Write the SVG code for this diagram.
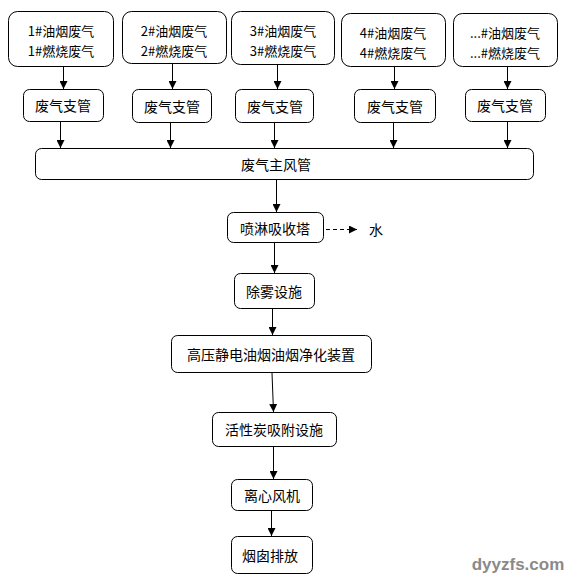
<svg xmlns="http://www.w3.org/2000/svg" width="568" height="583" viewBox="0 0 568 583">
<style>
.b{fill:#fff;stroke:#000;stroke-width:1}
.t{font-family:"Noto Sans CJK SC","Liberation Sans",sans-serif;font-size:14px;fill:#000;text-anchor:middle;dominant-baseline:central}
.s{font-size:13px}
.c{stroke:#000;stroke-width:1;fill:none}
.d{stroke-dasharray:4,3}
.w{font-family:"Liberation Sans",sans-serif;font-size:17px;font-weight:bold;fill:#8a8a8a;text-anchor:middle;dominant-baseline:central}
</style>
<defs>
<marker id="a" viewBox="0 0 10 10" refX="10" refY="5" markerWidth="8" markerHeight="8" markerUnits="userSpaceOnUse" orient="auto">
<path d="M0,0 L10,5 L0,10 Z" fill="#000"/>
</marker>
</defs>
<rect width="568" height="583" fill="#fff"/>
<g id="src1"><rect class="b" x="8.5" y="11.5" width="105" height="55" rx="9"/><text class="t s" x="61" y="30">1#油烟废气</text><text class="t s" x="61" y="50">1#燃烧废气</text></g>
<g id="src2"><rect class="b" x="122.5" y="11.5" width="104" height="52" rx="9"/><text class="t s" x="174" y="30">2#油烟废气</text><text class="t s" x="174" y="50">2#燃烧废气</text></g>
<g id="src3"><rect class="b" x="231.5" y="11.5" width="103" height="53" rx="9"/><text class="t s" x="283" y="30">3#油烟废气</text><text class="t s" x="283" y="50">3#燃烧废气</text></g>
<g id="src4"><rect class="b" x="341.5" y="13.5" width="104" height="53" rx="9"/><text class="t s" x="393" y="32">4#油烟废气</text><text class="t s" x="393" y="52">4#燃烧废气</text></g>
<g id="src5"><rect class="b" x="453.5" y="13.5" width="104" height="53" rx="9"/><text class="t s" x="505" y="32">...#油烟废气</text><text class="t s" x="505" y="52">...#燃烧废气</text></g>
<g id="br1"><rect class="b" x="23.5" y="89.5" width="80" height="32" rx="6"/><text class="t" x="63" y="105">废气支管</text></g>
<g id="br2"><rect class="b" x="132.5" y="89.5" width="79" height="33" rx="6"/><text class="t" x="172" y="106">废气支管</text></g>
<g id="br3"><rect class="b" x="235.5" y="89.5" width="78" height="33" rx="6"/><text class="t" x="275" y="106">废气支管</text></g>
<g id="br4"><rect class="b" x="354.5" y="89.5" width="81" height="33" rx="6"/><text class="t" x="395" y="106">废气支管</text></g>
<g id="br5"><rect class="b" x="465.5" y="89.5" width="80" height="32" rx="6"/><text class="t" x="505" y="105">废气支管</text></g>
<g id="main"><rect class="b" x="35.5" y="148.5" width="498" height="31" rx="6"/><text class="t" x="276" y="164">废气主风管</text></g>
<g id="spray"><rect class="b" x="227.5" y="212.5" width="96" height="30" rx="6"/><text class="t" x="275" y="228">喷淋吸收塔</text></g>
<g id="water"><text class="t" x="376" y="229">水</text></g>
<g id="demist"><rect class="b" x="234.5" y="273.5" width="80" height="35" rx="6"/><text class="t" x="274" y="291">除雾设施</text></g>
<g id="esp"><rect class="b" x="171.5" y="335.5" width="200" height="37" rx="6"/><text class="t" x="271" y="354">高压静电油烟油烟净化装置</text></g>
<g id="carbon"><rect class="b" x="212.5" y="412.5" width="124" height="34" rx="6"/><text class="t" x="274" y="429">活性炭吸附设施</text></g>
<g id="fan"><rect class="b" x="231.5" y="479.5" width="81" height="31" rx="6"/><text class="t" x="272" y="495">离心风机</text></g>
<g id="stack"><rect class="b" x="231.5" y="536.5" width="81" height="37" rx="6"/><text class="t" x="270" y="555">烟囱排放</text></g>
<g id="connectors">
<line class="c" x1="63.5" y1="66" x2="63.5" y2="89" marker-end="url(#a)"/>
<line class="c" x1="172.5" y1="64" x2="172.5" y2="89" marker-end="url(#a)"/>
<line class="c" x1="277.5" y1="65" x2="277.5" y2="89" marker-end="url(#a)"/>
<line class="c" x1="394.5" y1="67" x2="394.5" y2="89" marker-end="url(#a)"/>
<line class="c" x1="507.5" y1="67" x2="507.5" y2="89" marker-end="url(#a)"/>
<line class="c" x1="60.5" y1="122" x2="60.5" y2="148" marker-end="url(#a)"/>
<line class="c" x1="170.5" y1="123" x2="170.5" y2="148" marker-end="url(#a)"/>
<line class="c" x1="274.5" y1="123" x2="274.5" y2="148" marker-end="url(#a)"/>
<line class="c" x1="393.5" y1="123" x2="393.5" y2="148" marker-end="url(#a)"/>
<line class="c" x1="507.5" y1="122" x2="507.5" y2="148" marker-end="url(#a)"/>
<line class="c" x1="276.5" y1="180" x2="276.5" y2="212" marker-end="url(#a)"/>
<line class="c d" x1="326" y1="229.5" x2="357" y2="229.5" marker-end="url(#a)"/>
<line class="c" x1="274.5" y1="243" x2="274.5" y2="273" marker-end="url(#a)"/>
<line class="c" x1="272.5" y1="309" x2="272.5" y2="335" marker-end="url(#a)"/>
<line class="c" x1="272" y1="373" x2="273.5" y2="412" marker-end="url(#a)"/>
<line class="c" x1="273.5" y1="447" x2="273.5" y2="479" marker-end="url(#a)"/>
<line class="c" x1="271.5" y1="511" x2="271.5" y2="536" marker-end="url(#a)"/>
</g>
<text class="w" x="518" y="564">dyyzfs.com</text>
</svg>
